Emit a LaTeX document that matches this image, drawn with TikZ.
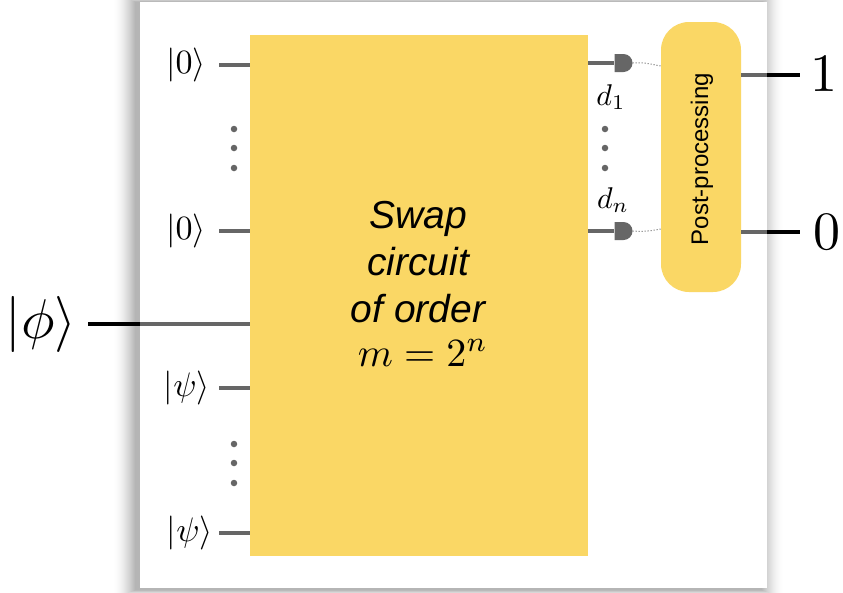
\documentclass[tikz,border=0pt]{standalone}
\usepackage{fontspec}
\setsansfont{Liberation Sans}
\usetikzlibrary{positioning,shapes.misc}
\definecolor{swapyellow}{HTML}{FAD765}
\definecolor{wiregray}{HTML}{666666}

\begin{document}
\begin{tikzpicture}[x=1pt,y=-1pt]
  \tikzstyle{page}=[fill=white,inner sep=0,minimum width=627pt,minimum height=586pt]
  \tikzstyle{box}=[fill=swapyellow,inner sep=0,align=center]
  \tikzstyle{wire}=[draw=wiregray,line width=3.6pt]
  \tikzstyle{outwire}=[draw=black,line width=3.6pt]
  \tikzstyle{ket}=[inner sep=0,scale=3.4]
  \tikzstyle{detector}=[fill=wiregray,inner sep=0,rounded rectangle,rounded rectangle left arc=none,minimum width=17pt,minimum height=18pt]
  \tikzstyle{vdot}=[fill=wiregray,circle,inner sep=0,minimum size=6.5pt]
  \useasboundingbox (0,0) rectangle (843,592);
  % page and its soft shadow
  \foreach \s in {23,22,...,1} {
    \pgfmathsetmacro{\shade}{0.0012*(24-\s)}
    \fill[black,opacity=\shade] (136-\s,2-\s/3) rectangle (761+\s,590+\s/3);
  }
  \node[page] (page) at (453.5,295) {};
  % main blocks
  \node[box,minimum width=338pt,minimum height=521pt] (swap) at (419,295.5) {};
  \node[inner sep=0,align=center,font=\sffamily\itshape\fontsize{39}{47}\selectfont] (swaptext) at (418,262) {Swap\\circuit\\of order};
  \node[inner sep=0,scale=4] (swapm) at (423,353) {$m=2^n$};
  \node[box,rounded corners=28pt,rotate=90,minimum width=270pt,minimum height=80pt] (post) at (701,157) {};
  \node[inner sep=0,rotate=90,font=\sffamily\fontsize{24}{24}\selectfont] (posttext) at (702,159) {Post-processing};
  % inputs
  \node[ket] (zero1) at (186,65) {$|0\rangle$};
  \node[ket] (zero2) at (186,231) {$|0\rangle$};
  \node[ket,scale=1.65] (phi) at (41,324) {$|\phi\rangle$};
  \node[ket] (psi1) at (187,388) {$|\psi\rangle$};
  \node[ket] (psi2) at (190,533) {$|\psi\rangle$};
  \coordinate (in1) at (219,65);
  \coordinate (in2) at (219,231);
  \coordinate (in3) at (88,324);
  \coordinate (in4) at (219,388);
  \coordinate (in5) at (219,533);
  \draw[wire] (in1) -- (in1 -| swap.west);
  \draw[wire] (in2) -- (in2 -| swap.west);
  \draw[outwire] (in3) -- (in3 -| page.west);
  \draw[wire] (in3 -| page.west) -- (in3 -| swap.west);
  \draw[wire] (in4) -- (in4 -| swap.west);
  \draw[wire] (in5) -- (in5 -| swap.west);
  % detectors
  \node[detector] (det1) at (623.5,63) {};
  \node[detector] (det2) at (623.5,231) {};
  \draw[wire] (det1 -| swap.east) -- (det1);
  \draw[wire] (det2 -| swap.east) -- (det2);
  \coordinate (pd1) at (661,66);
  \coordinate (pd2) at (661,229);
  \draw[wiregray,dotted,line width=1pt] (det1.east) to[out=5,in=170] (pd1);
  \draw[wiregray,dotted,line width=1pt] (det2.east) to[out=-5,in=190] (pd2);
  \node[inner sep=0,scale=3] (d1) at (611,97) {$d_1$};
  \node[inner sep=0,scale=3] (dn) at (613,200) {$d_n$};
  % dots
  \foreach \y in {129,148,168} {
    \node[vdot] (a\y) at (234,\y) {};
    \node[vdot] (b\y) at (605,\y) {};
  }
  \foreach \y in {444,463,483}
    \node[vdot] (c\y) at (234,\y) {};
  % outputs
  \node[inner sep=0,scale=5.4] (one) at (824,74) {$1$};
  \node[inner sep=0,scale=5.4] (nil) at (827,232) {$0$};
  \coordinate (p1) at (741,75);
  \coordinate (p0) at (741,232);
  \coordinate (t1) at (800,75);
  \coordinate (t0) at (800,232);
  \draw[wire] (p1) -- (p1 -| page.east);
  \draw[wire] (p0) -- (p0 -| page.east);
  \draw[outwire] (p1 -| page.east) -- (t1);
  \draw[outwire] (p0 -| page.east) -- (t0);
\end{tikzpicture}
\end{document}
